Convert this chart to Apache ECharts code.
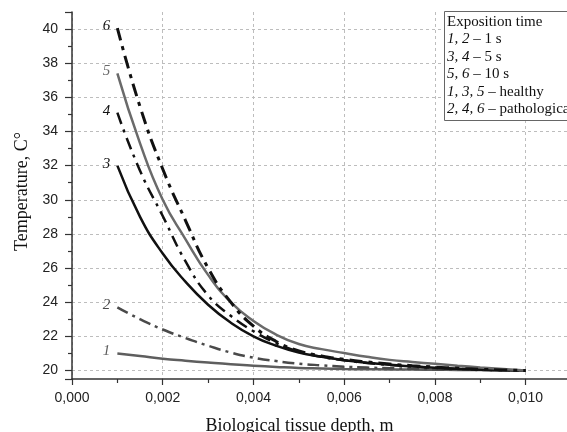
<!DOCTYPE html>
<html>
<head>
<meta charset="utf-8">
<script src="https://cdn.jsdelivr.net/npm/echarts@6/dist/echarts.min.js"></script>
<style>
  html, body { margin: 0; padding: 0; background: #fff; }
  #chart { width: 567px; height: 432px; }
</style>
</head>
<body>
<div id="chart"></div>
<script>
// ---- data ----
const depth = [0.001, 0.0015, 0.002, 0.0025, 0.003, 0.0035, 0.004, 0.0045, 0.005, 0.0055,
               0.006, 0.0065, 0.007, 0.0075, 0.008, 0.0085, 0.009, 0.0095, 0.010];
const curve1 = [21.0, 20.85, 20.69, 20.57, 20.46, 20.36, 20.28, 20.21, 20.15, 20.12,
                20.09, 20.07, 20.06, 20.05, 20.04, 20.03, 20.02, 20.01, 20.0];
const curve2 = [23.7, 23.0, 22.4, 21.9, 21.45, 21.05, 20.75, 20.55, 20.4, 20.3,
                20.22, 20.17, 20.13, 20.1, 20.07, 20.05, 20.03, 20.01, 20.0];
const curve3 = [32.0, 29.0, 26.85, 25.2, 23.85, 22.8, 22.0, 21.45, 21.05, 20.8,
                20.6, 20.45, 20.33, 20.24, 20.16, 20.1, 20.05, 20.02, 20.0];
const curve4 = [35.1, 31.7, 29.05, 26.4, 24.4, 23.2, 22.3, 21.6, 21.1, 20.8,
                20.6, 20.44, 20.32, 20.23, 20.16, 20.1, 20.05, 20.02, 20.0];
const curve5 = [37.4, 33.3, 30.0, 27.7, 25.6, 24.0, 22.9, 22.1, 21.55, 21.25,
                21.02, 20.8, 20.62, 20.5, 20.39, 20.28, 20.18, 20.09, 20.0];
const curve6 = [40.06, 35.45, 31.8, 28.8, 26.0, 24.0, 22.6, 21.7, 21.15, 20.85,
                20.65, 20.5, 20.38, 20.28, 20.2, 20.13, 20.07, 20.03, 20.0];
const curveLabels = ['1', '2', '3', '4', '5', '6'];
const xTickValues = [0, 0.002, 0.004, 0.006, 0.008, 0.010];
const yTickValues = [20, 22, 24, 26, 28, 30, 32, 34, 36, 38, 40];
const xAxisTitle = 'Biological tissue depth, m';
const yAxisTitle = 'Temperature, C°';
const legendTitle = 'Exposition time';
const legendKeys = ['1, 2', '3, 4', '5, 6', '1, 3, 5', '2, 4, 6'];
const legendTexts = ['1 s', '5 s', '10 s', 'healthy', 'pathological'];

// ---- styles ----
const curves = [curve1, curve2, curve3, curve4, curve5, curve6];
const colors = ['#5e5e5e', '#4a4a4a', '#111111', '#111111', '#6a6a6a', '#111111'];
const widths = [2.5, 2.5, 2.5, 2.5, 2.5, 3];
const types = ['solid', [12, 5, 3, 5], 'solid', [12, 6, 3, 6], 'solid', [13, 6, 4, 6]];

function isIn(v, list) {
  return list.some(t => Math.abs(t - v) < 1e-9);
}

const series = curves.map((c, k) => ({
  type: 'line',
  name: curveLabels[k],
  showSymbol: true,
  symbol: 'circle',
  symbolSize: 0,
  smooth: 0.5,
  clip: true,
  lineStyle: { color: colors[k], width: widths[k], type: types[k] },
  itemStyle: { color: 'rgba(0,0,0,0)', borderWidth: 0 },
  label: { show: false },
  emphasis: { disabled: true },
  data: depth.map((x, i) => {
    if (i === 0) {
      return {
        value: [x, c[i]],
        label: {
          show: true, position: 'left', distance: 7, offset: [0, -2],
          formatter: curveLabels[k],
          fontFamily: 'Liberation Serif', fontStyle: 'italic', fontSize: 15,
          color: colors[k]
        }
      };
    }
    return [x, c[i]];
  })
}));

const gridColor = '#bdbdbd';
const yLineColors = [];
for (let i = 0; i < 13; i++) yLineColors.push(i === 0 || i === 12 ? 'rgba(0,0,0,0)' : gridColor);

const legendText = legendTitle + '\n' +
  legendKeys.map((k, i) => '{i|' + k + '} – ' + legendTexts[i]).join('\n');

const chart = echarts.init(document.getElementById('chart'), null, { renderer: 'canvas' });
chart.setOption({
  animation: false,
  backgroundColor: '#ffffff',
  title: {
    text: legendText,
    left: 444, top: 11,
    padding: [2, 30, 3, 3],
    borderColor: '#666',
    borderWidth: 1,
    backgroundColor: '#fff',
    textStyle: {
      fontFamily: 'Liberation Serif', fontSize: 15, fontWeight: 'normal',
      color: '#111', lineHeight: 17.5,
      rich: {
        i: { fontFamily: 'Liberation Serif', fontSize: 15, fontStyle: 'italic', color: '#111', lineHeight: 17.5 }
      }
    }
  },
  grid: { left: 72, right: -4, top: 12, bottom: 53, containLabel: false, outerBoundsMode: 'none' },
  xAxis: {
    type: 'value',
    min: 0, max: 0.011, interval: 0.002,
    name: xAxisTitle,
    nameLocation: 'middle',
    nameGap: 38,
    nameTextStyle: { fontFamily: 'Liberation Serif', fontSize: 18, color: '#111', padding: [0, 44, 0, 0] },
    axisLine: { show: true, onZero: false, lineStyle: { color: '#333', width: 1.5 } },
    axisTick: { show: true, inside: false, length: 6, lineStyle: { color: '#333', width: 1.2 } },
    minorTick: { show: true, splitNumber: 2, length: 4, lineStyle: { color: '#333', width: 1.2 } },
    axisLabel: {
      margin: 12, fontFamily: 'Liberation Sans', fontSize: 14, color: '#222',
      showMaxLabel: false,
      formatter: v => isIn(v, xTickValues) ? v.toFixed(3).replace('.', ',') : ''
    },
    splitLine: { show: true, lineStyle: { color: gridColor, width: 1, type: [3, 3] } }
  },
  yAxis: {
    type: 'value',
    min: 19.5, max: 41, splitNumber: 10,
    name: yAxisTitle,
    nameLocation: 'middle',
    nameGap: 40,
    nameRotate: 90,
    nameTextStyle: { fontFamily: 'Liberation Serif', fontSize: 18, color: '#111', padding: [0, 0, 0, 8] },
    axisLine: { show: true, onZero: false, lineStyle: { color: '#333', width: 1.5 } },
    axisTick: { show: true, inside: false, length: 7, lineStyle: { color: '#333', width: 1.2 } },
    minorTick: { show: true, splitNumber: 2, length: 4, lineStyle: { color: '#333', width: 1.2 } },
    axisLabel: {
      margin: 14, fontFamily: 'Liberation Sans', fontSize: 14, color: '#222',
      formatter: v => isIn(v, yTickValues) ? String(Math.round(v)) : ''
    },
    splitLine: { show: true, lineStyle: { color: yLineColors, width: 1, type: [3, 3] } }
  },
  series: series
});
</script>
</body>
</html>
